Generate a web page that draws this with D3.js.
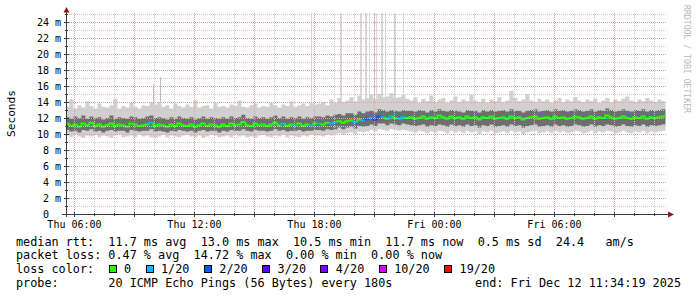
<!DOCTYPE html>
<html>
<head>
<meta charset="utf-8">
<script src="https://d3js.org/d3.v7.min.js"></script>
<style>
  body { margin: 0; background: #fff; }
  svg text { font-family: "DejaVu Sans Mono", monospace; white-space: pre; }
</style>
</head>
<body>
<svg width="697" height="297"></svg>
<script>
  // time frame: 30 hours ending at the graph end time, 12 minute bins
  var endTime = new Date(2025, 11, 12, 11, 34, 19);
  var startTime = new Date(endTime.getTime() - 30 * 3600e3);
  var binMinutes = 12;

  // median rtt per bin (ms)
  var median = [
    11.3, 11.0, 11.2, 10.9, 11.3, 11.1, 11.4, 11.0, 11.2, 10.9,
    11.1, 11.3, 11.0, 11.2, 11.1, 10.9, 11.3, 11.2, 11.0, 11.1,
    11.2, 11.4, 11.0, 11.2, 11.1, 10.9, 11.2, 11.0, 11.3, 11.1,
    11.0, 11.2, 10.9, 11.1, 11.3, 11.0, 11.2, 11.1, 10.9, 11.2,
    11.0, 11.3, 11.1, 11.2, 11.5, 11.1, 11.0, 11.3, 11.1, 11.2,
    11.0, 11.2, 11.4, 11.1, 11.3, 11.0, 11.2, 11.1, 11.3, 11.0,
    11.2, 11.1, 11.3,
    11.3, 11.2, 11.4, 11.3, 11.5, 11.6, 11.4, 11.6, 11.7, 11.5,
    11.8, 11.7, 11.9, 12.0, 11.8, 12.2, 12.1, 11.9, 12.2, 12.0,
    11.9, 12.1, 12.0,
    12.1, 11.9, 12.0, 12.2, 11.9, 12.1, 12.0, 12.3, 12.1, 11.9,
    12.2, 12.0, 12.1, 11.9, 12.2, 12.0, 12.1, 11.8, 12.1, 12.0,
    12.2, 11.9, 12.0, 12.1, 11.9, 12.2, 12.0, 12.1, 11.8, 12.0,
    12.1, 12.2, 11.9, 12.0, 12.1, 11.9, 12.2, 12.0, 12.1, 11.9,
    12.0, 12.2, 12.1, 11.9, 12.0, 12.2, 11.9, 12.1, 12.0, 12.3,
    12.1, 11.9, 12.0, 12.2, 12.0, 11.9, 12.1, 12.0, 12.2, 11.9,
    12.1, 12.0, 12.1, 12.2
  ];

  // dense part of the smoke (ms)
  var innerLo = [
    10.5, 10.3, 10.4, 10.2, 10.5, 10.4, 10.6, 10.3, 10.4, 10.2,
    10.4, 10.5, 10.3, 10.4, 10.4, 10.2, 10.5, 10.4, 10.3, 10.4,
    10.4, 10.6, 10.3, 10.4, 10.3, 10.2, 10.4, 10.3, 10.5, 10.4,
    10.3, 10.4, 10.2, 10.4, 10.5, 10.3, 10.4, 10.4, 10.2, 10.4,
    10.3, 10.5, 10.4, 10.4, 10.6, 10.4, 10.3, 10.5, 10.4, 10.4,
    10.3, 10.4, 10.6, 10.4, 10.5, 10.3, 10.4, 10.4, 10.5, 10.3,
    10.4, 10.4, 10.5,
    10.5, 10.4, 10.6, 10.5, 10.6, 10.8, 10.6, 10.8, 10.9, 10.7,
    11.0, 10.9, 11.0, 11.2, 11.0, 11.3, 11.3, 11.1, 11.3, 11.2,
    11.1, 11.3, 11.2,
    11.1, 11.0, 11.1, 11.2, 10.9, 11.1, 11.0, 11.2, 11.1, 10.9,
    11.2, 11.0, 11.1, 10.9, 11.2, 11.0, 11.1, 10.8, 11.1, 11.0,
    11.2, 10.9, 11.0, 11.1, 10.9, 11.2, 11.0, 11.1, 10.8, 11.0,
    11.1, 11.2, 10.9, 11.0, 11.1, 10.9, 11.2, 11.0, 11.1, 10.9,
    11.0, 11.2, 11.1, 10.9, 11.0, 11.2, 10.9, 11.1, 11.0, 11.2,
    11.1, 10.9, 11.0, 11.2, 11.0, 10.9, 11.1, 11.0, 11.2, 10.9,
    11.1, 11.0, 11.1, 11.2
  ];
  var innerHi = [
    12.1, 11.9, 12.2, 12.0, 12.3, 11.9, 12.2, 12.0, 12.1, 11.8,
    12.0, 12.3, 11.9, 12.1, 12.0, 11.9, 12.2, 12.1, 11.9, 12.0,
    12.2, 12.3, 12.0, 12.1, 12.0, 11.8, 12.1, 11.9, 12.2, 12.0,
    11.9, 12.1, 11.8, 12.0, 12.2, 11.9, 12.1, 12.0, 11.9, 12.1,
    11.9, 12.2, 12.0, 12.1, 12.4, 12.0, 11.9, 12.2, 12.0, 12.1,
    11.9, 12.1, 12.3, 12.0, 12.2, 11.9, 12.1, 12.0, 12.2, 11.9,
    12.1, 12.0, 12.2,
    12.2, 12.1, 12.3, 12.2, 12.4, 12.5, 12.3, 12.6, 12.6, 12.4,
    12.8, 12.6, 12.8, 12.9, 12.7, 13.1, 13.0, 12.8, 13.0, 12.9,
    12.8, 13.0, 12.9,
    12.9, 12.8, 13.0, 12.9, 12.7, 13.0, 12.8, 13.1, 12.9, 12.8,
    13.0, 12.9, 12.8, 12.7, 13.0, 12.9, 12.9, 12.7, 13.0, 12.8,
    13.0, 12.8, 12.9, 13.0, 12.8, 13.1, 12.9, 12.9, 12.7, 12.9,
    13.0, 13.1, 12.8, 12.9, 13.0, 12.8, 13.1, 12.9, 13.0, 12.8,
    12.9, 13.1, 13.0, 12.8, 12.9, 13.1, 12.8, 13.0, 12.9, 13.2,
    13.0, 12.8, 12.9, 13.1, 12.9, 12.8, 13.0, 12.9, 13.1, 12.8,
    13.0, 12.9, 13.0, 13.1
  ];

  // outer smoke, fastest and slowest pings (ms)
  var outerLo = [
    9.8, 9.6, 9.9, 9.7, 9.5, 9.8, 9.7, 9.9, 9.6, 9.8,
    9.7, 9.5, 9.8, 9.9, 9.6, 9.7, 9.8, 9.6, 9.9, 9.7,
    9.8, 9.6, 9.5, 9.7, 9.9, 9.6, 9.8, 9.7, 9.6, 9.8,
    9.9, 9.7, 9.6, 9.8, 9.5, 9.7, 9.9, 9.8, 9.6, 9.7,
    9.8, 9.6, 9.9, 9.7, 9.8, 9.6, 9.7, 9.5, 9.8, 9.9,
    9.7, 9.6, 9.8, 9.7, 9.9, 9.6, 9.8, 9.7, 9.6, 9.8,
    9.7, 9.9, 9.8,
    9.8, 9.7, 9.9, 9.8, 10.0, 10.1, 9.9, 10.1, 10.2, 10.0,
    10.3, 10.2, 10.3, 10.5, 10.3, 10.6, 10.5, 10.4, 10.6, 10.5,
    10.4, 10.5, 10.4,
    10.3, 10.2, 10.4, 10.3, 10.1, 10.3, 10.2, 10.4, 10.3, 10.1,
    10.4, 10.2, 10.3, 10.1, 10.4, 10.2, 10.3, 10.0, 10.3, 10.2,
    10.4, 10.1, 10.2, 10.3, 10.1, 10.4, 10.2, 10.3, 10.0, 10.2,
    10.3, 10.4, 10.1, 10.2, 10.3, 10.1, 10.4, 10.2, 10.3, 10.1,
    10.2, 10.4, 10.3, 10.1, 10.2, 10.4, 10.1, 10.3, 10.2, 10.4,
    10.3, 10.1, 10.2, 10.4, 10.2, 10.1, 10.3, 10.2, 10.4, 10.1,
    10.3, 10.2, 10.3, 10.4
  ];
  var outerHi = [
    13.4, 14.3, 13.2, 13.6, 13.3, 14.1, 13.5, 13.2, 13.8, 13.4,
    13.3, 13.6, 14.4, 13.2, 13.5, 13.3, 13.9, 13.4, 13.2, 13.6,
    13.5, 14.0, 13.7, 14.0, 13.4, 13.6, 13.2, 13.8, 13.5, 13.3,
    13.7, 13.4, 14.2, 13.3, 13.5, 13.6, 13.2, 13.9, 13.4, 13.5,
    13.3, 13.7, 13.5, 14.2, 13.4, 13.3, 13.6, 13.8, 13.3, 13.5,
    13.4, 13.9, 13.6, 13.3, 13.7, 13.5, 14.1, 13.4, 13.6, 13.8,
    13.5, 13.9, 13.7,
    13.8, 14.0, 13.6, 14.3, 13.9, 14.5, 14.0, 14.2, 14.6, 14.1,
    14.8, 14.3, 14.5, 14.9, 14.4, 15.0, 14.6, 14.7, 15.1, 14.5,
    14.6, 14.9, 14.4,
    14.2, 14.6, 13.9, 14.4, 14.1, 14.8, 14.0, 14.3, 14.5, 13.9,
    14.2, 14.7, 14.0, 14.3, 14.1, 14.9, 14.2, 14.0, 14.4, 13.9,
    14.3, 14.1, 14.6, 14.0, 14.2, 15.4, 14.5, 14.1, 14.3, 15.0,
    14.2, 14.0, 14.4, 14.1, 14.3, 13.9, 14.2, 14.5, 14.0, 14.3,
    14.1, 14.6, 14.2, 14.0, 14.3, 14.1, 14.4, 13.9, 14.2, 14.5,
    14.0, 14.3, 14.1, 14.4, 14.7, 14.2, 14.0, 14.3, 14.1, 14.5,
    14.2, 14.0, 14.3, 14.1
  ];

  // bins with packet loss (lost pings out of 20)
  var lossBin   = [21, 54, 57, 61, 63, 66, 67, 72, 74, 75, 76, 77, 78, 79, 81, 83, 84];
  var lossCount = [ 1,  1,  1,  1,  1,  1,  1,  1,  1,  2,  1,  3,  2,  1,  1,  1,  1];

  // single slow pings (Thu Dec 11), width in minutes, top in ms
  var spikeTimes   = ["09:56", "10:19", "17:51", "19:18", "20:18", "20:33", "20:44",
                      "21:01", "21:05", "21:20", "21:33", "21:59", "22:28"];
  var spikeMinutes = [3, 3, 3, 6, 6, 6, 3, 3, 3, 6, 3, 6, 3];
  var spikeTop     = [16.2, 17.1, 30, 30, 30, 30, 30, 30, 30, 30, 30, 30, 30];

  // legend
  var lossLabels = ["0", "1/20", "2/20", "3/20", "4/20", "10/20", "19/20"];
  var lossLevels = [0, 1, 2, 3, 4, 10, 19];
  var lossColors = ["#26ff00", "#00b8ff", "#0059ff", "#5e00ff", "#7e00ff", "#dd00ff", "#ff0000"];
  var legendLines = [
    "median rtt:  11.7 ms avg  13.0 ms max  10.5 ms min  11.7 ms now  0.5 ms sd  24.4   am/s",
    "packet loss: 0.47 % avg  14.72 % max  0.00 % min  0.00 % now"
  ];
  var probeText = "probe:       20 ICMP Echo Pings (56 Bytes) every 180s";
  var endText = "end: Fri Dec 12 11:34:19 2025";

  var svg = d3.select("svg");
  var plot = { left: 66.5, right: 667, top: 13, bottom: 214 };

  var x = d3.scaleTime().domain([startTime, endTime]).range([65.4, 665.4]);
  var y = d3.scaleLinear().domain([0, 25.125]).range([214, 13]);

  function binTime(i) {
    return new Date(startTime.getTime() + i * binMinutes * 60e3);
  }

  var bins = median.map(function (m, i) {
    return { t: binTime(i), m: m, il: innerLo[i], ih: innerHi[i], ol: outerLo[i], oh: outerHi[i] };
  });
  var last = bins[bins.length - 1];
  var binsEnd = bins.concat([Object.assign({}, last, { t: endTime })]);

  svg.append("clipPath").attr("id", "clip")
    .append("rect")
    .attr("x", 67).attr("y", plot.top)
    .attr("width", plot.right - 67).attr("height", plot.bottom - plot.top);

  var g = svg.append("g").attr("clip-path", "url(#clip)");

  // spikes
  var parseT = d3.timeParse("%Y-%m-%d %H:%M");
  g.selectAll("rect.spike").data(spikeTimes).enter()
    .append("rect")
    .attr("class", "spike")
    .attr("fill", function (d, i) { return spikeTop[i] < 20 ? "#bdbdbd" : "#d8d8d8"; })
    .attr("x", function (d) { return Math.round(x(parseT("2025-12-11 " + d))); })
    .attr("width", function (d, i) { return spikeMinutes[i] / 3; })
    .attr("y", function (d, i) { return y(spikeTop[i]); })
    .attr("height", function (d, i) { return y(12) - y(spikeTop[i]); });

  var areaOuter = d3.area().curve(d3.curveStepAfter)
    .x(function (d) { return x(d.t); })
    .y0(function (d) { return y(d.ol); })
    .y1(function (d) { return y(d.oh); });
  var areaInner = d3.area().curve(d3.curveStepAfter)
    .x(function (d) { return x(d.t); })
    .y0(function (d) { return y(d.il); })
    .y1(function (d) { return y(d.ih); });

  g.append("path").datum(binsEnd).attr("fill", "#d0d0d0").attr("d", areaOuter);
  g.append("path").datum(binsEnd).attr("fill", "#6e6e6e").attr("d", areaInner);

  // median, coloured by loss
  function colorFor(count) {
    var c = lossColors[0];
    lossLevels.forEach(function (lv, k) { if (count >= lv) c = lossColors[k]; });
    return c;
  }
  var stepLine = d3.line().curve(d3.curveStepBefore)
    .x(function (d) { return x(d[0]); })
    .y(function (d) { return y(d[1]); });

  g.selectAll("path.median").data(bins).enter()
    .append("path")
    .attr("class", "median")
    .attr("fill", "none")
    .attr("stroke", function (d, i) {
      var k = lossBin.indexOf(i);
      return colorFor(k < 0 ? 0 : lossCount[k]);
    })
    .attr("stroke-width", 2)
    .attr("d", function (d, i) {
      var prev = i > 0 ? median[i - 1] : d.m;
      var tNext = i < bins.length - 1 ? binTime(i + 1) : endTime;
      return stepLine([[d.t, prev], [d.t, d.m], [tNext, d.m]]);
    });

  // grid on top
  var grid = svg.append("g").attr("stroke-dasharray", "1,1").attr("stroke-width", 1);
  d3.range(1, 26).forEach(function (v) {
    var yy = Math.round(y(v)) + 0.5;
    grid.append("line")
      .attr("x1", 67).attr("x2", plot.right)
      .attr("y1", yy).attr("y2", yy)
      .attr("stroke", v % 2 === 0 ? "#f09a9a" : "#c8c8c8");
  });
  d3.timeHour.every(1).range(startTime, endTime).forEach(function (t) {
    var xx = Math.round(x(t)) + 0.5;
    grid.append("line")
      .attr("x1", xx).attr("x2", xx)
      .attr("y1", plot.top).attr("y2", plot.bottom)
      .attr("stroke", t.getHours() % 3 === 0 ? "#f09a9a" : "#c8c8c8");
  });

  // axes lines, ticks and arrows
  var axisColor = "#3a3a3a";
  var arrowColor = "#8a1c1c";
  svg.append("line").attr("x1", plot.left).attr("x2", plot.left)
    .attr("y1", 10).attr("y2", 217).attr("stroke", axisColor);
  svg.append("line").attr("x1", 62).attr("x2", 670)
    .attr("y1", 214.5).attr("y2", 214.5).attr("stroke", axisColor);
  svg.append("path").attr("fill", arrowColor)
    .attr("d", "M63.5,12.5 L69.5,12.5 L66.5,7 Z");
  svg.append("path").attr("fill", arrowColor)
    .attr("d", "M668,211.5 L668,217.5 L674,214.5 Z");

  d3.range(1, 26).forEach(function (v) {
    var yy = Math.round(y(v)) + 0.5;
    var major = v % 2 === 0;
    svg.append("line").attr("stroke", axisColor)
      .attr("x1", major ? 64 : 65).attr("x2", major ? 69 : 68)
      .attr("y1", yy).attr("y2", yy);
  });
  d3.timeHour.every(1).range(startTime, endTime).forEach(function (t) {
    var xx = Math.round(x(t)) + 0.5;
    var major = t.getHours() % 3 === 0;
    svg.append("line").attr("stroke", axisColor)
      .attr("x1", xx).attr("x2", xx)
      .attr("y1", major ? 212 : 213).attr("y2", major ? 217 : 216);
  });

  // axis labels
  var xAxis = d3.axisBottom(x)
    .ticks(d3.timeHour.every(6))
    .tickFormat(d3.timeFormat("%a %H:%M"))
    .tickSize(0).tickPadding(0);
  var xa = svg.append("g").attr("transform", "translate(0,220)").call(xAxis);
  xa.select(".domain").remove();
  xa.selectAll("text")
    .attr("y", 0).attr("dy", "7.8")
    .attr("font-family", "DejaVu Sans Mono").attr("font-size", 10).attr("fill", "#000");

  var yAxis = d3.axisLeft(y)
    .tickValues(d3.range(0, 25, 2))
    .tickFormat(function (v) { return v === 0 ? "0" : v + " m"; })
    .tickSize(0).tickPadding(0);
  var ya = svg.append("g").attr("transform", "translate(61,0)").call(yAxis);
  ya.select(".domain").remove();
  ya.selectAll("text")
    .attr("x", function (v) { return v === 0 ? -12 : 0; })
    .attr("dy", "3.6")
    .attr("font-family", "DejaVu Sans Mono").attr("font-size", 10).attr("fill", "#000");

  svg.append("text")
    .attr("transform", "translate(14.5,113.5) rotate(-90)")
    .attr("text-anchor", "middle")
    .attr("font-size", 11.2)
    .text("Seconds");

  svg.append("text")
    .attr("transform", "translate(684,5) rotate(90)")
    .attr("font-size", 9)
    .attr("fill", "#b8b8b8")
    .attr("textLength", 108)
    .attr("lengthAdjust", "spacingAndGlyphs")
    .text("RRDTOOL / TOBI OETIKER");

  // legend
  var fs = 11.8, cw = 7.12, lx = 16;
  var rows = [245.5, 259.3, 273.1, 286.9];
  legendLines.forEach(function (s, i) {
    svg.append("text").attr("x", lx).attr("y", rows[i]).attr("font-size", fs).text(s);
  });
  svg.append("text").attr("x", lx).attr("y", rows[2]).attr("font-size", fs).text("loss color:");
  var bx = 108.7;
  lossLabels.forEach(function (lab, k) {
    svg.append("rect")
      .attr("x", Math.round(bx) + 0.5).attr("y", 265.5)
      .attr("width", 7).attr("height", 7)
      .attr("fill", lossColors[k]).attr("stroke", "#000");
    svg.append("text").attr("x", bx + 15.4).attr("y", rows[2]).attr("font-size", fs).text(lab);
    bx += 15.4 + lab.length * cw + 14.4;
  });
  svg.append("text").attr("x", lx).attr("y", rows[3]).attr("font-size", fs).text(probeText);
  svg.append("text").attr("x", 681).attr("y", rows[3]).attr("font-size", fs)
    .attr("text-anchor", "end").text(endText);
</script>
</body>
</html>
